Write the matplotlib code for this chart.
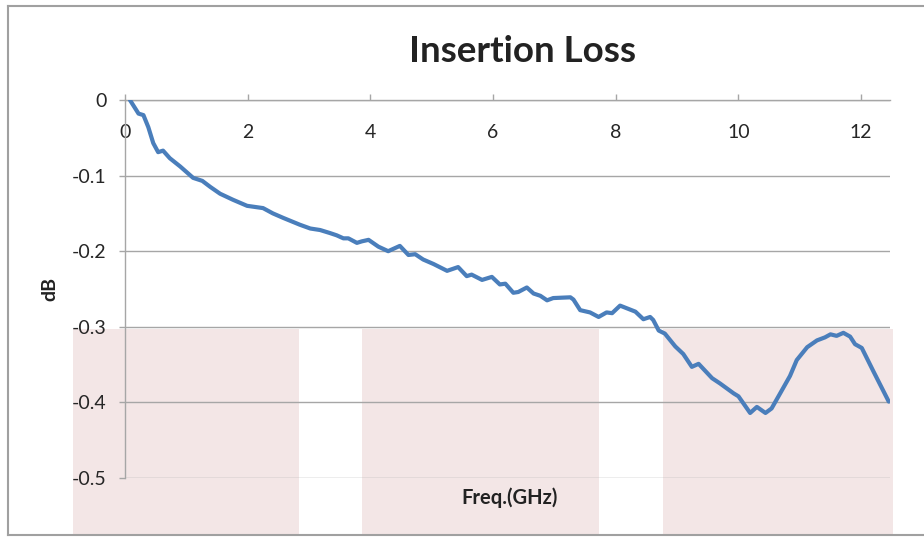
import matplotlib
matplotlib.use("Agg")
import matplotlib.pyplot as plt
from matplotlib.patches import Rectangle
from matplotlib.lines import Line2D

plt.rcParams['font.family'] = ['Lato', 'DejaVu Sans']

# insertion loss trace
freq_ghz = [0.08, 0.22, 0.30, 0.38, 0.46, 0.54, 0.62, 0.73, 0.90, 1.11,
            1.26, 1.39, 1.55, 1.76, 1.99, 2.25, 2.41, 2.58, 2.85, 3.02,
            3.18, 3.34, 3.45, 3.56, 3.64, 3.78, 3.86, 3.97, 4.13, 4.29,
            4.48, 4.62, 4.73, 4.86, 5.03, 5.25, 5.43, 5.57, 5.65, 5.82,
            5.98, 6.11, 6.20, 6.33, 6.41, 6.55, 6.66, 6.77, 6.88, 6.98,
            7.26, 7.31, 7.42, 7.58, 7.72, 7.85, 7.94, 8.07, 8.32, 8.45,
            8.56, 8.61, 8.70, 8.80, 8.97, 9.10, 9.24, 9.35, 9.57, 9.70,
            9.92, 10.00, 10.19, 10.30, 10.44, 10.54, 10.68, 10.84, 10.95, 11.12,
            11.28, 11.41, 11.50, 11.60, 11.71, 11.82, 11.90, 12.01, 12.20, 12.45]
loss_db = [0.000, -0.018, -0.020, -0.036, -0.057, -0.069, -0.067, -0.077, -0.088, -0.103,
           -0.107, -0.115, -0.124, -0.132, -0.140, -0.143, -0.150, -0.156, -0.165, -0.170,
           -0.172, -0.176, -0.179, -0.183, -0.183, -0.189, -0.187, -0.185, -0.194, -0.200,
           -0.193, -0.205, -0.204, -0.211, -0.217, -0.226, -0.221, -0.233, -0.231, -0.238,
           -0.234, -0.244, -0.243, -0.255, -0.254, -0.248, -0.256, -0.259, -0.265, -0.262,
           -0.261, -0.264, -0.278, -0.281, -0.287, -0.281, -0.282, -0.272, -0.280, -0.290,
           -0.287, -0.291, -0.305, -0.309, -0.326, -0.336, -0.353, -0.349, -0.368, -0.375,
           -0.388, -0.392, -0.414, -0.406, -0.414, -0.408, -0.388, -0.365, -0.344, -0.327,
           -0.318, -0.314, -0.310, -0.312, -0.308, -0.313, -0.323, -0.328, -0.359, -0.399]

x_ticks = [0, 2, 4, 6, 8, 10, 12]
y_ticks = [0, -0.1, -0.2, -0.3, -0.4, -0.5]
y_labels = ['0', '-0.1', '-0.2', '-0.3', '-0.4', '-0.5']

# pink shaded bands behind the chart (GHz ranges)
band_starts = [-0.85, 3.86, 8.77]
band_ends = [2.84, 7.73, 12.52]

grid_col = '#A6A6A6'

fig = plt.figure(figsize=(9.24, 5.37), dpi=100)
ax = fig.add_axes([0.1353, 0.1099, 0.8279, 0.7039])
ax.set_xlim(0, 12.47)
ax.set_ylim(-0.5, 0)

for s, e in zip(band_starts, band_ends):
    ax.add_patch(Rectangle((s, -0.303), e - s, -0.272, facecolor='#F3E6E6',
                           edgecolor='none', clip_on=False, zorder=0))

ax.plot(freq_ghz, loss_db, color='#4A7EBB', lw=3.0, solid_capstyle='round',
        solid_joinstyle='round', zorder=3)

ax.set_xticks(x_ticks)
ax.set_yticks(y_ticks)
ax.set_yticklabels(y_labels)
ax.yaxis.grid(True, color=grid_col, lw=1.0, zorder=1)
ax.set_axisbelow(True)
ax.tick_params(axis='x', top=True, labeltop=True, bottom=False, labelbottom=False,
               direction='out', length=4.3, width=1.0, color=grid_col,
               pad=-34, labelsize=14, labelcolor='#262626')
ax.tick_params(axis='y', direction='out', length=4.3, width=1.0, color=grid_col,
               pad=9, labelsize=14, labelcolor='#262626')
for side in ['right', 'bottom']:
    ax.spines[side].set_visible(False)
for side in ['left', 'top']:
    ax.spines[side].set_color(grid_col)
    ax.spines[side].set_linewidth(1.0)
ax.patch.set_alpha(0)

fig.text(0.565, 0.905, 'Insertion Loss', ha='center', va='center',
         fontsize=26.5, fontweight='bold', color='#222222')
fig.text(0.054, 0.462, 'dB', rotation=90, ha='center', va='center',
         fontsize=14, fontweight='bold', color='#222222')
fig.text(0.551, 0.074, 'Freq.(GHz)', ha='center', va='center',
         fontsize=14.5, fontweight='bold', color='#222222')

# chart frame
fig.add_artist(Line2D([8 / 924, 8 / 924], [1 - 6 / 537, 1 - 535 / 537],
                      transform=fig.transFigure, color='#A0A0A0', lw=1.5))
fig.add_artist(Line2D([8 / 924, 1], [1 - 6 / 537, 1 - 6 / 537],
                      transform=fig.transFigure, color='#A0A0A0', lw=1.5))
fig.add_artist(Line2D([8 / 924, 1], [1 - 535 / 537, 1 - 535 / 537],
                      transform=fig.transFigure, color='#A0A0A0', lw=1.5))

fig.savefig('out.png', dpi=100)
